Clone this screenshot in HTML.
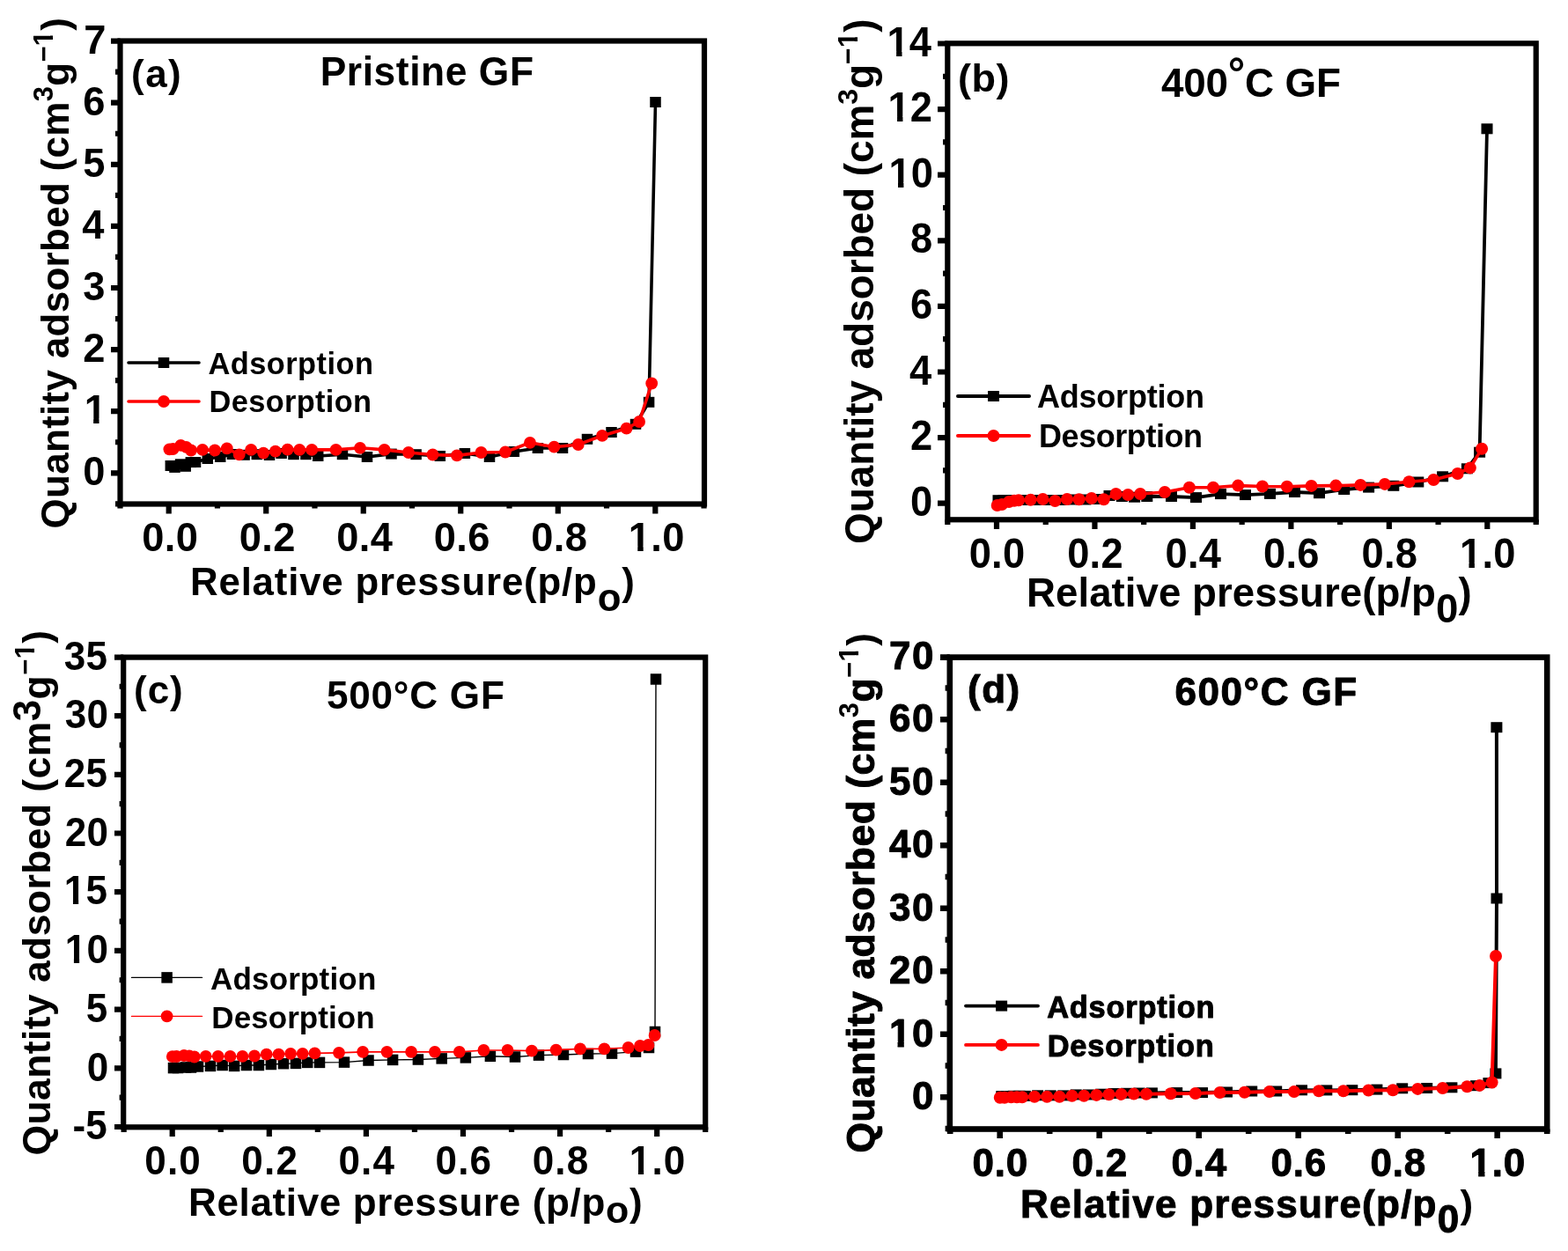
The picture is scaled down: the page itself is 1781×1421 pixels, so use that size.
<!DOCTYPE html>
<html lang="en">
<head>
<meta charset="utf-8">
<title>N2 adsorption-desorption isotherms of graphite felt</title>
<style>
html,body{margin:0;padding:0;background:#fff;}
body{width:1781px;height:1421px;overflow:hidden;}
svg{display:block;}
svg text{font-family:"Liberation Sans", sans-serif;font-weight:700;fill:#000;white-space:pre;}
</style>
</head>
<body>
<svg width="1781" height="1421" viewBox="0 0 1781 1421">
<rect width="1781" height="1421" fill="#fff"/>
<defs><clipPath id="c1"><path d="M-9 -91.6H999V45.8H25.46V-5.59H17.1V45.8H10.61V-5.59H-9Z"/></clipPath><clipPath id="c2"><path d="M-9 -91.6H999V45.8H25.1V-5.59H17.1V45.8H10.61V-5.59H-9Z"/></clipPath><clipPath id="c3"><path clip-rule="evenodd" d="M-99 -200H1500V200H-99ZM549.09 -22.03H555.29V-15H549.09ZM559.78 -22.03H565.52V-15H559.78Z"/></clipPath><clipPath id="c4"><path d="M-9 -96H999V48H26.56V-5.86H17.91V48H11.13V-5.86H-9Z"/></clipPath><clipPath id="c5"><path d="M-9 -96H999V48H26.3V-5.86H17.91V48H11.13V-5.86H-9Z"/></clipPath><clipPath id="c6"><path clip-rule="evenodd" d="M-99 -200H1500V200H-99ZM564.6 -22.16H571.01V-15H564.6ZM575.63 -22.16H581.56V-15H575.63Z"/></clipPath><clipPath id="c7"><path d="M-9 -91.2H999V45.6H26.22V-5.56H17.02V45.6H10.57V-5.56H-9Z"/></clipPath><clipPath id="c8"><path d="M-9 -91.2H999V45.6H25.29V-5.56H17.02V45.6H10.57V-5.56H-9Z"/></clipPath><clipPath id="c9"><path clip-rule="evenodd" d="M-99 -200H1500V200H-99ZM565.16 -22.03H571.37V-15H565.16ZM575.85 -22.03H581.59V-15H575.85Z"/></clipPath><clipPath id="c10"><path d="M-9 -88.8H999V44.4H25.18V-5.92H17.08V44.4H9.78V-5.92H-9Z"/></clipPath><clipPath id="c11"><path d="M-9 -87.8H999V43.9H25.66V-5.86H16.89V43.9H9.67V-5.86H-9Z"/></clipPath><clipPath id="c12"><path clip-rule="evenodd" d="M-99 -200H1500V200H-99ZM559.15 -22.03H565.35V-15H559.15ZM569.84 -22.03H575.58V-15H569.84Z"/></clipPath></defs>
<g class="panel" id="panel-a">
<polyline points="193.8,529 198.5,530.9 205,527.3 210.7,529.8 216.8,525.1 222,525 235.8,521 250.2,519 264,516 277.6,516.8 291.8,516.2 306,517 319.6,515 333.5,516.2 347.4,516.2 361.2,518 389,516.2 417,519 444.5,515.6 472.6,516.2 499.8,518 527.9,515 556,519 583.8,513 610.9,509 639,509 667,498.8 694.5,491 722,481.8 737.1,456.8 744.5,116" fill="none" stroke="#000" stroke-width="3.6" stroke-linejoin="round"/>
<g fill="#000"><rect x="187.55" y="523" width="12.5" height="12"/><rect x="192.25" y="524.9" width="12.5" height="12"/><rect x="198.75" y="521.3" width="12.5" height="12"/><rect x="204.45" y="523.8" width="12.5" height="12"/><rect x="210.55" y="519.1" width="12.5" height="12"/><rect x="215.75" y="519" width="12.5" height="12"/><rect x="229.55" y="515" width="12.5" height="12"/><rect x="243.95" y="513" width="12.5" height="12"/><rect x="257.75" y="510" width="12.5" height="12"/><rect x="271.35" y="510.8" width="12.5" height="12"/><rect x="285.55" y="510.2" width="12.5" height="12"/><rect x="299.75" y="511" width="12.5" height="12"/><rect x="313.35" y="509" width="12.5" height="12"/><rect x="327.25" y="510.2" width="12.5" height="12"/><rect x="341.15" y="510.2" width="12.5" height="12"/><rect x="354.95" y="512" width="12.5" height="12"/><rect x="382.75" y="510.2" width="12.5" height="12"/><rect x="410.75" y="513" width="12.5" height="12"/><rect x="438.25" y="509.6" width="12.5" height="12"/><rect x="466.35" y="510.2" width="12.5" height="12"/><rect x="493.55" y="512" width="12.5" height="12"/><rect x="521.65" y="509" width="12.5" height="12"/><rect x="549.75" y="513" width="12.5" height="12"/><rect x="577.55" y="507" width="12.5" height="12"/><rect x="604.65" y="503" width="12.5" height="12"/><rect x="632.75" y="503" width="12.5" height="12"/><rect x="660.75" y="492.8" width="12.5" height="12"/><rect x="688.25" y="485" width="12.5" height="12"/><rect x="715.75" y="475.8" width="12.5" height="12"/><rect x="730.85" y="450.8" width="12.5" height="12"/><rect x="738.25" y="110" width="12.5" height="12"/></g>
<polyline points="192.4,510.3 196.5,510 205.3,505.9 211.5,507.8 217,511.5 230,510.9 244,511.5 257.8,509.4 271.7,516.4 285.2,510.9 299.2,514.6 312.8,512.7 326.6,510.6 340.2,510.9 354.2,510.9 381.6,510.9 409,508.8 436.6,510.9 464,514 491.5,516.5 519,517.4 546.5,514 574,513.5 602,502.8 629.4,507.7 656.8,505 684,494.9 711.6,486.7 726.1,479 740.2,435.5" fill="none" stroke="#f00" stroke-width="3.6" stroke-linejoin="round"/>
<g fill="#f00"><circle cx="192.4" cy="510.3" r="6.9"/><circle cx="196.5" cy="510" r="6.9"/><circle cx="205.3" cy="505.9" r="6.9"/><circle cx="211.5" cy="507.8" r="6.9"/><circle cx="217" cy="511.5" r="6.9"/><circle cx="230" cy="510.9" r="6.9"/><circle cx="244" cy="511.5" r="6.9"/><circle cx="257.8" cy="509.4" r="6.9"/><circle cx="271.7" cy="516.4" r="6.9"/><circle cx="285.2" cy="510.9" r="6.9"/><circle cx="299.2" cy="514.6" r="6.9"/><circle cx="312.8" cy="512.7" r="6.9"/><circle cx="326.6" cy="510.6" r="6.9"/><circle cx="340.2" cy="510.9" r="6.9"/><circle cx="354.2" cy="510.9" r="6.9"/><circle cx="381.6" cy="510.9" r="6.9"/><circle cx="409" cy="508.8" r="6.9"/><circle cx="436.6" cy="510.9" r="6.9"/><circle cx="464" cy="514" r="6.9"/><circle cx="491.5" cy="516.5" r="6.9"/><circle cx="519" cy="517.4" r="6.9"/><circle cx="546.5" cy="514" r="6.9"/><circle cx="574" cy="513.5" r="6.9"/><circle cx="602" cy="502.8" r="6.9"/><circle cx="629.4" cy="507.7" r="6.9"/><circle cx="656.8" cy="505" r="6.9"/><circle cx="684" cy="494.9" r="6.9"/><circle cx="711.6" cy="486.7" r="6.9"/><circle cx="726.1" cy="479" r="6.9"/><circle cx="740.2" cy="435.5" r="6.9"/></g>
<rect x="136.5" y="46.5" width="663.5" height="526" fill="none" stroke="#000" stroke-width="6.2"/>
<path d="M191.7 572.5V583.6M302.22 572.5V583.6M412.74 572.5V583.6M523.26 572.5V583.6M633.78 572.5V583.6M744.3 572.5V583.6M136.5 572.5V577.6M246.96 572.5V577.6M357.48 572.5V577.6M468 572.5V577.6M578.52 572.5V577.6M689.04 572.5V577.6M799.56 572.5V577.6M136.5 537.3H126M136.5 467.2H126M136.5 397.1H126M136.5 327H126M136.5 256.9H126M136.5 186.8H126M136.5 116.7H126M136.5 46.6H126M136.5 572.35H131M136.5 502.25H131M136.5 432.15H131M136.5 362.05H131M136.5 291.95H131M136.5 221.85H131M136.5 151.75H131M136.5 81.65H131" fill="none" stroke="#000" stroke-width="6.2"/>
<text transform="translate(161.19 626) scale(0.988 1)" font-size="45.8" letter-spacing="0.36" >0.0</text>
<text transform="translate(271.71 626) scale(0.988 1)" font-size="45.8" letter-spacing="0.36" >0.2</text>
<text transform="translate(382.23 626) scale(0.988 1)" font-size="45.8" letter-spacing="0.36" >0.4</text>
<text transform="translate(492.75 626) scale(0.988 1)" font-size="45.8" letter-spacing="0.36" >0.6</text>
<text transform="translate(603.27 626) scale(0.988 1)" font-size="45.8" letter-spacing="0.36" >0.8</text>
<text transform="translate(713.79 626) scale(0.988 1)" font-size="45.8" letter-spacing="0.36"  clip-path="url(#c1)">1.0</text>
<text transform="translate(94.29 551.3) scale(0.988 1)" font-size="45.8" letter-spacing="0" >0</text>
<text transform="translate(95.65 481.2) scale(0.988 1)" font-size="45.8" letter-spacing="0"  clip-path="url(#c2)">1</text>
<text transform="translate(94.29 411.1) scale(0.988 1)" font-size="45.8" letter-spacing="0" >2</text>
<text transform="translate(94.29 341) scale(0.988 1)" font-size="45.8" letter-spacing="0" >3</text>
<text transform="translate(93.3 270.9) scale(0.988 1)" font-size="45.8" letter-spacing="0" >4</text>
<text transform="translate(94.29 200.8) scale(0.988 1)" font-size="45.8" letter-spacing="0" >5</text>
<text transform="translate(94.29 130.7) scale(0.988 1)" font-size="45.8" letter-spacing="0" >6</text>
<text transform="translate(95.28 60.6) scale(0.988 1)" font-size="45.8" letter-spacing="0" >7</text>
<text x="216" y="676" font-size="43.8" letter-spacing="0.82" >Relative pressure(p/p<tspan dy="17.5">o</tspan><tspan dy="-17.5">)</tspan></text>
<text transform="translate(78 600.4) rotate(-90)" font-size="44" letter-spacing="0.28"  clip-path="url(#c3)">Quantity adsorbed (cm<tspan dy="-18" font-size="31">3</tspan><tspan dy="18">g</tspan><tspan dy="-18" font-size="31">−1</tspan><tspan dy="18">)</tspan></text>
<text transform="translate(363.68 97) scale(0.975 1)" font-size="45.5" letter-spacing="0.59" >Pristine GF</text>
<text x="149" y="99" font-size="44" letter-spacing="1.5" >(a)</text>
<path d="M146 412H226" stroke="#000" stroke-width="3.6" stroke-linecap="round" fill="none"/>
<rect x="179.75" y="406" width="12.5" height="12" fill="#000"/>
<path d="M146 456H226" stroke="#f00" stroke-width="3.6" stroke-linecap="round" fill="none"/>
<circle cx="186" cy="456" r="6.9" fill="#f00"/>
<text x="236.4" y="425" font-size="34.4" letter-spacing="0.47" >Adsorption</text>
<text x="237.6" y="468.4" font-size="34.4" letter-spacing="0.33" >Desorption</text>
</g>
<g class="panel" id="panel-b">
<polyline points="1134,568.2 1140,568 1148,568 1154,568 1163,568 1177,568 1191,568 1205,568 1219,567.5 1233,567.5 1247,567 1260,563 1274.4,564 1288.6,564.7 1302.8,564 1330.5,564 1358.5,565.1 1386.5,561.1 1414.5,562.1 1442.5,560.9 1470.5,559 1498.5,560.2 1526.7,556 1554.6,553.6 1582.8,551.8 1610.8,547.5 1638.6,541.3 1666.4,532.3 1680.6,513.7 1689,146.3" fill="none" stroke="#000" stroke-width="3.8" stroke-linejoin="round"/>
<g fill="#000"><rect x="1127.5" y="562.2" width="13" height="12"/><rect x="1133.5" y="562" width="13" height="12"/><rect x="1141.5" y="562" width="13" height="12"/><rect x="1147.5" y="562" width="13" height="12"/><rect x="1156.5" y="562" width="13" height="12"/><rect x="1170.5" y="562" width="13" height="12"/><rect x="1184.5" y="562" width="13" height="12"/><rect x="1198.5" y="562" width="13" height="12"/><rect x="1212.5" y="561.5" width="13" height="12"/><rect x="1226.5" y="561.5" width="13" height="12"/><rect x="1240.5" y="561" width="13" height="12"/><rect x="1253.5" y="557" width="13" height="12"/><rect x="1267.9" y="558" width="13" height="12"/><rect x="1282.1" y="558.7" width="13" height="12"/><rect x="1296.3" y="558" width="13" height="12"/><rect x="1324" y="558" width="13" height="12"/><rect x="1352" y="559.1" width="13" height="12"/><rect x="1380" y="555.1" width="13" height="12"/><rect x="1408" y="556.1" width="13" height="12"/><rect x="1436" y="554.9" width="13" height="12"/><rect x="1464" y="553" width="13" height="12"/><rect x="1492" y="554.2" width="13" height="12"/><rect x="1520.2" y="550" width="13" height="12"/><rect x="1548.1" y="547.6" width="13" height="12"/><rect x="1576.3" y="545.8" width="13" height="12"/><rect x="1604.3" y="541.5" width="13" height="12"/><rect x="1632.1" y="535.3" width="13" height="12"/><rect x="1659.9" y="526.3" width="13" height="12"/><rect x="1674.1" y="507.7" width="13" height="12"/><rect x="1682.5" y="140.3" width="13" height="12"/></g>
<polyline points="1132.7,574 1138,573 1146,570 1152,568.8 1157,568.2 1170.6,567.8 1184.5,567 1198.4,569 1212,567 1225.6,567.2 1239.8,566 1253.7,567.3 1267.6,561 1281.2,562 1295.2,561 1323,559 1350.9,553.7 1378,553.7 1406.2,551.6 1433.9,552.5 1461.8,552.7 1489.5,551.9 1517.3,551.6 1545.3,550.9 1572.9,549.9 1600.5,547.2 1628.3,545 1655.6,538 1669.8,531.4 1683.1,509.8" fill="none" stroke="#f00" stroke-width="3.6" stroke-linejoin="round"/>
<g fill="#f00"><circle cx="1132.7" cy="574" r="7"/><circle cx="1138" cy="573" r="7"/><circle cx="1146" cy="570" r="7"/><circle cx="1152" cy="568.8" r="7"/><circle cx="1157" cy="568.2" r="7"/><circle cx="1170.6" cy="567.8" r="7"/><circle cx="1184.5" cy="567" r="7"/><circle cx="1198.4" cy="569" r="7"/><circle cx="1212" cy="567" r="7"/><circle cx="1225.6" cy="567.2" r="7"/><circle cx="1239.8" cy="566" r="7"/><circle cx="1253.7" cy="567.3" r="7"/><circle cx="1267.6" cy="561" r="7"/><circle cx="1281.2" cy="562" r="7"/><circle cx="1295.2" cy="561" r="7"/><circle cx="1323" cy="559" r="7"/><circle cx="1350.9" cy="553.7" r="7"/><circle cx="1378" cy="553.7" r="7"/><circle cx="1406.2" cy="551.6" r="7"/><circle cx="1433.9" cy="552.5" r="7"/><circle cx="1461.8" cy="552.7" r="7"/><circle cx="1489.5" cy="551.9" r="7"/><circle cx="1517.3" cy="551.6" r="7"/><circle cx="1545.3" cy="550.9" r="7"/><circle cx="1572.9" cy="549.9" r="7"/><circle cx="1600.5" cy="547.2" r="7"/><circle cx="1628.3" cy="545" r="7"/><circle cx="1655.6" cy="538" r="7"/><circle cx="1669.8" cy="531.4" r="7"/><circle cx="1683.1" cy="509.8" r="7"/></g>
<rect x="1076.3" y="49.3" width="668.4" height="541" fill="none" stroke="#000" stroke-width="6.2"/>
<path d="M1132 590.3V601M1243.46 590.3V601M1354.92 590.3V601M1466.38 590.3V601M1577.84 590.3V601M1689.3 590.3V601M1076.3 590.3V596M1187.73 590.3V596M1299.19 590.3V596M1410.65 590.3V596M1522.11 590.3V596M1633.57 590.3V596M1744.7 590.3V596M1076.3 571.7H1065M1076.3 497.1H1065M1076.3 422.5H1065M1076.3 347.9H1065M1076.3 273.3H1065M1076.3 198.7H1065M1076.3 124.1H1065M1076.3 49.5H1065M1076.3 534.4H1071M1076.3 459.8H1071M1076.3 385.2H1071M1076.3 310.6H1071M1076.3 236H1071M1076.3 161.4H1071M1076.3 86.8H1071" fill="none" stroke="#000" stroke-width="6.2"/>
<text transform="translate(1100.69 645) scale(0.943 1)" font-size="48" letter-spacing="0.26" >0.0</text>
<text transform="translate(1212.15 645) scale(0.943 1)" font-size="48" letter-spacing="0.26" >0.2</text>
<text transform="translate(1323.61 645) scale(0.943 1)" font-size="48" letter-spacing="0.26" >0.4</text>
<text transform="translate(1435.07 645) scale(0.943 1)" font-size="48" letter-spacing="0.26" >0.6</text>
<text transform="translate(1546.53 645) scale(0.943 1)" font-size="48" letter-spacing="0.26" >0.8</text>
<text transform="translate(1657.99 645) scale(0.943 1)" font-size="48" letter-spacing="0.26"  clip-path="url(#c4)">1.0</text>
<text transform="translate(1034.02 585.8) scale(0.943 1)" font-size="48" letter-spacing="0" >0</text>
<text transform="translate(1034.02 511.2) scale(0.943 1)" font-size="48" letter-spacing="0" >2</text>
<text transform="translate(1033.08 436.6) scale(0.943 1)" font-size="48" letter-spacing="0" >4</text>
<text transform="translate(1034.02 362) scale(0.943 1)" font-size="48" letter-spacing="0" >6</text>
<text transform="translate(1034.02 287.4) scale(0.943 1)" font-size="48" letter-spacing="0" >8</text>
<text transform="translate(1009.51 212.8) scale(0.943 1)" font-size="48" letter-spacing="0"  clip-path="url(#c5)">10</text>
<text transform="translate(1008.56 138.2) scale(0.943 1)" font-size="48" letter-spacing="0"  clip-path="url(#c5)">12</text>
<text transform="translate(1007.62 63.6) scale(0.943 1)" font-size="48" letter-spacing="0"  clip-path="url(#c5)">14</text>
<text x="1166" y="689" font-size="45.6" letter-spacing="0.06" >Relative pressure(p/p<tspan dy="18">0</tspan><tspan dy="-18">)</tspan></text>
<text transform="translate(992 618) rotate(-90)" font-size="46" letter-spacing="-0.08"  clip-path="url(#c6)">Quantity adsorbed (cm<tspan dy="-18" font-size="32">3</tspan><tspan dy="18">g</tspan><tspan dy="-18" font-size="32">−1</tspan><tspan dy="18">)</tspan></text>
<text transform="translate(1319.03 109.5) scale(0.975 1)" font-size="47" letter-spacing="-0.22" >400<tspan dy="-9.5" font-size="50">°</tspan><tspan dy="9.5">C</tspan> GF</text>
<text x="1088" y="103.6" font-size="45" letter-spacing="0.5" >(b)</text>
<path d="M1088 450H1169" stroke="#000" stroke-width="4" stroke-linecap="round" fill="none"/>
<rect x="1122" y="444" width="13" height="12" fill="#000"/>
<path d="M1088 495H1169" stroke="#f00" stroke-width="4" stroke-linecap="round" fill="none"/>
<circle cx="1128.5" cy="495" r="7" fill="#f00"/>
<text x="1178" y="463" font-size="36" letter-spacing="-0.22" >Adsorption</text>
<text x="1180" y="507.7" font-size="36" letter-spacing="-0.44" >Desorption</text>
</g>
<g class="panel" id="panel-c">
<polyline points="197,1213.1 202,1213 211,1212.5 217,1212.5 225,1211.5 239,1210.9 252.6,1210 266.1,1210.9 280,1210 293.9,1210 307.9,1209 322,1208.2 336,1207.9 349.2,1206.9 363,1206.9 391,1206.6 418.5,1204.5 446.1,1203.9 474.9,1203.5 501.7,1202.4 528.9,1201.4 556.9,1199.8 585,1200.5 612,1198.6 640,1198 668,1197 695,1196.6 722,1194.6 737,1190 744,1172 745,771.5" fill="none" stroke="#000" stroke-width="1.4" stroke-linejoin="round"/>
<g fill="#000"><rect x="190.75" y="1206.85" width="12.5" height="12.5"/><rect x="195.75" y="1206.75" width="12.5" height="12.5"/><rect x="204.75" y="1206.25" width="12.5" height="12.5"/><rect x="210.75" y="1206.25" width="12.5" height="12.5"/><rect x="218.75" y="1205.25" width="12.5" height="12.5"/><rect x="232.75" y="1204.65" width="12.5" height="12.5"/><rect x="246.35" y="1203.75" width="12.5" height="12.5"/><rect x="259.85" y="1204.65" width="12.5" height="12.5"/><rect x="273.75" y="1203.75" width="12.5" height="12.5"/><rect x="287.65" y="1203.75" width="12.5" height="12.5"/><rect x="301.65" y="1202.75" width="12.5" height="12.5"/><rect x="315.75" y="1201.95" width="12.5" height="12.5"/><rect x="329.75" y="1201.65" width="12.5" height="12.5"/><rect x="342.95" y="1200.65" width="12.5" height="12.5"/><rect x="356.75" y="1200.65" width="12.5" height="12.5"/><rect x="384.75" y="1200.35" width="12.5" height="12.5"/><rect x="412.25" y="1198.25" width="12.5" height="12.5"/><rect x="439.85" y="1197.65" width="12.5" height="12.5"/><rect x="468.65" y="1197.25" width="12.5" height="12.5"/><rect x="495.45" y="1196.15" width="12.5" height="12.5"/><rect x="522.65" y="1195.15" width="12.5" height="12.5"/><rect x="550.65" y="1193.55" width="12.5" height="12.5"/><rect x="578.75" y="1194.25" width="12.5" height="12.5"/><rect x="605.75" y="1192.35" width="12.5" height="12.5"/><rect x="633.75" y="1191.75" width="12.5" height="12.5"/><rect x="661.75" y="1190.75" width="12.5" height="12.5"/><rect x="688.75" y="1190.35" width="12.5" height="12.5"/><rect x="715.75" y="1188.35" width="12.5" height="12.5"/><rect x="730.75" y="1183.75" width="12.5" height="12.5"/><rect x="737.75" y="1165.75" width="12.5" height="12.5"/><rect x="738.75" y="765.25" width="12.5" height="12.5"/></g>
<polyline points="195.8,1200.1 200.5,1200 209,1199 215,1199.3 220.8,1200.5 233.7,1199.8 247.7,1199.8 261.5,1199.9 275.4,1199.9 289,1199.5 302.7,1197.7 316.5,1197.7 330.1,1196.8 343.7,1196.8 357.5,1196.4 385,1195.8 412.1,1194.8 439.5,1194.8 467.1,1194.8 493.9,1194.8 521.8,1194.8 549.4,1193 576.5,1193 604,1193.6 631.6,1192.6 659,1191.4 686.4,1191.4 713.6,1190 727,1188 736.4,1187 743.6,1176" fill="none" stroke="#f00" stroke-width="1.7" stroke-linejoin="round"/>
<g fill="#f00"><circle cx="195.8" cy="1200.1" r="6.9"/><circle cx="200.5" cy="1200" r="6.9"/><circle cx="209" cy="1199" r="6.9"/><circle cx="215" cy="1199.3" r="6.9"/><circle cx="220.8" cy="1200.5" r="6.9"/><circle cx="233.7" cy="1199.8" r="6.9"/><circle cx="247.7" cy="1199.8" r="6.9"/><circle cx="261.5" cy="1199.9" r="6.9"/><circle cx="275.4" cy="1199.9" r="6.9"/><circle cx="289" cy="1199.5" r="6.9"/><circle cx="302.7" cy="1197.7" r="6.9"/><circle cx="316.5" cy="1197.7" r="6.9"/><circle cx="330.1" cy="1196.8" r="6.9"/><circle cx="343.7" cy="1196.8" r="6.9"/><circle cx="357.5" cy="1196.4" r="6.9"/><circle cx="385" cy="1195.8" r="6.9"/><circle cx="412.1" cy="1194.8" r="6.9"/><circle cx="439.5" cy="1194.8" r="6.9"/><circle cx="467.1" cy="1194.8" r="6.9"/><circle cx="493.9" cy="1194.8" r="6.9"/><circle cx="521.8" cy="1194.8" r="6.9"/><circle cx="549.4" cy="1193" r="6.9"/><circle cx="576.5" cy="1193" r="6.9"/><circle cx="604" cy="1193.6" r="6.9"/><circle cx="631.6" cy="1192.6" r="6.9"/><circle cx="659" cy="1191.4" r="6.9"/><circle cx="686.4" cy="1191.4" r="6.9"/><circle cx="713.6" cy="1190" r="6.9"/><circle cx="727" cy="1188" r="6.9"/><circle cx="736.4" cy="1187" r="6.9"/><circle cx="743.6" cy="1176" r="6.9"/></g>
<rect x="140.2" y="746.6" width="661" height="533.7" fill="none" stroke="#000" stroke-width="6.2"/>
<path d="M195.7 1280.3V1291M305.8 1280.3V1291M415.9 1280.3V1291M526 1280.3V1291M636.1 1280.3V1291M746.2 1280.3V1291M140.65 1280.3V1286M250.75 1280.3V1286M360.85 1280.3V1286M470.95 1280.3V1286M581.05 1280.3V1286M691.15 1280.3V1286M801.2 1280.3V1286M140.2 1280H130M140.2 1213.3H130M140.2 1146.6H130M140.2 1079.9H130M140.2 1013.2H130M140.2 946.5H130M140.2 879.8H130M140.2 813.1H130M140.2 746.6H130M140.2 1246.65H135.6M140.2 1179.95H135.6M140.2 1113.25H135.6M140.2 1046.55H135.6M140.2 979.85H135.6M140.2 913.15H135.6M140.2 846.45H135.6M140.2 779.75H135.6" fill="none" stroke="#000" stroke-width="6.2"/>
<text transform="translate(164.23 1334) scale(0.965 1)" font-size="45.6" letter-spacing="1.23" >0.0</text>
<text transform="translate(274.33 1334) scale(0.965 1)" font-size="45.6" letter-spacing="1.23" >0.2</text>
<text transform="translate(384.43 1334) scale(0.965 1)" font-size="45.6" letter-spacing="1.23" >0.4</text>
<text transform="translate(494.53 1334) scale(0.965 1)" font-size="45.6" letter-spacing="1.23" >0.6</text>
<text transform="translate(604.63 1334) scale(0.965 1)" font-size="45.6" letter-spacing="1.23" >0.8</text>
<text transform="translate(714.73 1334) scale(0.965 1)" font-size="45.6" letter-spacing="1.23"  clip-path="url(#c7)">1.0</text>
<text transform="translate(82.4 1294.2) scale(0.965 1)" font-size="45.6" letter-spacing="0.3" >-5</text>
<text transform="translate(98.81 1227.5) scale(0.965 1)" font-size="45.6" letter-spacing="0.3" >0</text>
<text transform="translate(97.84 1160.8) scale(0.965 1)" font-size="45.6" letter-spacing="0.3" >5</text>
<text transform="translate(73.72 1094.1) scale(0.965 1)" font-size="45.6" letter-spacing="0.3"  clip-path="url(#c8)">10</text>
<text transform="translate(72.75 1027.4) scale(0.965 1)" font-size="45.6" letter-spacing="0.3"  clip-path="url(#c8)">15</text>
<text transform="translate(73.72 960.7) scale(0.965 1)" font-size="45.6" letter-spacing="0.3" >20</text>
<text transform="translate(72.75 894) scale(0.965 1)" font-size="45.6" letter-spacing="0.3" >25</text>
<text transform="translate(73.72 827.3) scale(0.965 1)" font-size="45.6" letter-spacing="0.3" >30</text>
<text transform="translate(72.75 760.6) scale(0.965 1)" font-size="45.6" letter-spacing="0.3" >35</text>
<text x="214" y="1381.4" font-size="44" letter-spacing="0.65" >Relative pressure (p/p<tspan dy="7.5" font-size="43">o</tspan><tspan dy="-7.5">)</tspan></text>
<text transform="translate(57 1312.6) rotate(-90)" font-size="44.5" letter-spacing="0.41"  clip-path="url(#c9)">Quantity adsorbed (cm<tspan dy="-11" font-size="44">3</tspan><tspan dy="11">g</tspan><tspan dy="-18" font-size="31">−1</tspan><tspan dy="18">)</tspan></text>
<text transform="translate(370.94 804.8) scale(0.98 1)" font-size="45" letter-spacing="0.78" >500°C GF</text>
<text x="152" y="799" font-size="44" letter-spacing="1" >(c)</text>
<path d="M149.5 1110.4H229.5" stroke="#000" stroke-width="1.4" stroke-linecap="round" fill="none"/>
<rect x="183.35" y="1104.15" width="12.5" height="12.5" fill="#000"/>
<path d="M149.5 1154.4H229.5" stroke="#f00" stroke-width="1.4" stroke-linecap="round" fill="none"/>
<circle cx="189.6" cy="1154.4" r="6.9" fill="#f00"/>
<text x="239" y="1124" font-size="35" letter-spacing="0.18" >Adsorption</text>
<text x="240.3" y="1168" font-size="35" letter-spacing="0.07" >Desorption</text>
</g>
<g class="panel" id="panel-d">
<polyline points="1137.8,1245.1 1143.33,1245.14 1151.16,1244.78 1157.99,1244.82 1164.32,1244.86 1178.65,1244.3 1193.18,1244.34 1207.71,1244.38 1222.24,1243.42 1236.17,1243.46 1250.7,1242.7 1265.23,1242.04 1279.46,1241.78 1294.09,1241.52 1308.4,1241.4 1336.7,1241.1 1365.5,1241.1 1393.5,1240.5 1421.7,1239.5 1449.7,1239.5 1478.5,1238.3 1506.8,1238.4 1535.8,1238.2 1563.9,1237.6 1592.7,1236.3 1620.7,1236 1648.9,1235.3 1676.6,1233.2 1690.9,1230.1 1698.9,1219.4 1700,1020.5 1699.9,826.2" fill="none" stroke="#000" stroke-width="4" stroke-linejoin="round"/>
<g fill="#000"><rect x="1131.3" y="1239.1" width="13" height="12"/><rect x="1136.83" y="1239.14" width="13" height="12"/><rect x="1144.66" y="1238.78" width="13" height="12"/><rect x="1151.49" y="1238.82" width="13" height="12"/><rect x="1157.82" y="1238.86" width="13" height="12"/><rect x="1172.15" y="1238.3" width="13" height="12"/><rect x="1186.68" y="1238.34" width="13" height="12"/><rect x="1201.21" y="1238.38" width="13" height="12"/><rect x="1215.74" y="1237.42" width="13" height="12"/><rect x="1229.67" y="1237.46" width="13" height="12"/><rect x="1244.2" y="1236.7" width="13" height="12"/><rect x="1258.73" y="1236.04" width="13" height="12"/><rect x="1272.96" y="1235.78" width="13" height="12"/><rect x="1287.59" y="1235.52" width="13" height="12"/><rect x="1301.9" y="1235.4" width="13" height="12"/><rect x="1330.2" y="1235.1" width="13" height="12"/><rect x="1359" y="1235.1" width="13" height="12"/><rect x="1387" y="1234.5" width="13" height="12"/><rect x="1415.2" y="1233.5" width="13" height="12"/><rect x="1443.2" y="1233.5" width="13" height="12"/><rect x="1472" y="1232.3" width="13" height="12"/><rect x="1500.3" y="1232.4" width="13" height="12"/><rect x="1529.3" y="1232.2" width="13" height="12"/><rect x="1557.4" y="1231.6" width="13" height="12"/><rect x="1586.2" y="1230.3" width="13" height="12"/><rect x="1614.2" y="1230" width="13" height="12"/><rect x="1642.4" y="1229.3" width="13" height="12"/><rect x="1670.1" y="1227.2" width="13" height="12"/><rect x="1684.4" y="1224.1" width="13" height="12"/><rect x="1692.4" y="1213.4" width="13" height="12"/><rect x="1693.5" y="1014.5" width="13" height="12"/><rect x="1693.4" y="820.2" width="13" height="12"/></g>
<polyline points="1135.8,1246.7 1141,1246.7 1148.5,1246.3 1155,1246.3 1161,1246.3 1175,1245.7 1189.2,1245.7 1203.4,1245.7 1217.6,1244.7 1231.2,1244.7 1245.4,1243.9 1259.6,1243.2 1273.5,1242.9 1287.8,1242.6 1302,1242.7 1329.7,1242.3 1357.8,1242 1385.6,1241 1413.6,1240.8 1441.8,1240.1 1469.9,1240.1 1498,1239.3 1525.9,1239.2 1554.4,1238.5 1582.1,1238.2 1610.3,1236.9 1638.6,1236 1666.4,1234.2 1680.6,1232.9 1694.6,1229.5 1699,1086" fill="none" stroke="#f00" stroke-width="4" stroke-linejoin="round"/>
<g fill="#f00"><circle cx="1135.8" cy="1246.7" r="7"/><circle cx="1141" cy="1246.7" r="7"/><circle cx="1148.5" cy="1246.3" r="7"/><circle cx="1155" cy="1246.3" r="7"/><circle cx="1161" cy="1246.3" r="7"/><circle cx="1175" cy="1245.7" r="7"/><circle cx="1189.2" cy="1245.7" r="7"/><circle cx="1203.4" cy="1245.7" r="7"/><circle cx="1217.6" cy="1244.7" r="7"/><circle cx="1231.2" cy="1244.7" r="7"/><circle cx="1245.4" cy="1243.9" r="7"/><circle cx="1259.6" cy="1243.2" r="7"/><circle cx="1273.5" cy="1242.9" r="7"/><circle cx="1287.8" cy="1242.6" r="7"/><circle cx="1302" cy="1242.7" r="7"/><circle cx="1329.7" cy="1242.3" r="7"/><circle cx="1357.8" cy="1242" r="7"/><circle cx="1385.6" cy="1241" r="7"/><circle cx="1413.6" cy="1240.8" r="7"/><circle cx="1441.8" cy="1240.1" r="7"/><circle cx="1469.9" cy="1240.1" r="7"/><circle cx="1498" cy="1239.3" r="7"/><circle cx="1525.9" cy="1239.2" r="7"/><circle cx="1554.4" cy="1238.5" r="7"/><circle cx="1582.1" cy="1238.2" r="7"/><circle cx="1610.3" cy="1236.9" r="7"/><circle cx="1638.6" cy="1236" r="7"/><circle cx="1666.4" cy="1234.2" r="7"/><circle cx="1680.6" cy="1232.9" r="7"/><circle cx="1694.6" cy="1229.5" r="7"/><circle cx="1699" cy="1086" r="7"/></g>
<rect x="1078.8" y="746.6" width="678.4" height="535.9" fill="none" stroke="#000" stroke-width="6.6"/>
<path d="M1135.7 1282.5V1293M1248.7 1282.5V1293M1361.7 1282.5V1293M1474.7 1282.5V1293M1587.7 1282.5V1293M1700.7 1282.5V1293M1079.2 1282.5V1288M1192.2 1282.5V1288M1305.2 1282.5V1288M1418.2 1282.5V1288M1531.2 1282.5V1288M1644.2 1282.5V1288M1757.2 1282.5V1288M1078.8 1246.2H1068M1078.8 1174.7H1068M1078.8 1103.2H1068M1078.8 1031.7H1068M1078.8 960.2H1068M1078.8 888.7H1068M1078.8 817.2H1068M1078.8 746.6H1068M1078.8 1281.95H1073.6M1078.8 1210.45H1073.6M1078.8 1138.95H1073.6M1078.8 1067.45H1073.6M1078.8 995.95H1073.6M1078.8 924.45H1073.6M1078.8 852.95H1073.6M1078.8 781.45H1073.6" fill="none" stroke="#000" stroke-width="6.6"/>
<text transform="translate(1104.51 1336) scale(0.99 1)" font-size="44.4" letter-spacing="0.85" stroke="#000" stroke-width="1" stroke-linejoin="round">0.0</text>
<text transform="translate(1217.51 1336) scale(0.99 1)" font-size="44.4" letter-spacing="0.85" stroke="#000" stroke-width="1" stroke-linejoin="round">0.2</text>
<text transform="translate(1330.51 1336) scale(0.99 1)" font-size="44.4" letter-spacing="0.85" stroke="#000" stroke-width="1" stroke-linejoin="round">0.4</text>
<text transform="translate(1443.51 1336) scale(0.99 1)" font-size="44.4" letter-spacing="0.85" stroke="#000" stroke-width="1" stroke-linejoin="round">0.6</text>
<text transform="translate(1556.51 1336) scale(0.99 1)" font-size="44.4" letter-spacing="0.85" stroke="#000" stroke-width="1" stroke-linejoin="round">0.8</text>
<text transform="translate(1669.51 1336) scale(0.99 1)" font-size="44.4" letter-spacing="0.85" stroke="#000" stroke-width="1" stroke-linejoin="round" clip-path="url(#c10)">1.0</text>
<text transform="translate(1035.9 1260.4) scale(1 1)" font-size="43.9" letter-spacing="1.6" stroke="#000" stroke-width="1" stroke-linejoin="round">0</text>
<text transform="translate(1009.9 1188.9) scale(1 1)" font-size="43.9" letter-spacing="1.6" stroke="#000" stroke-width="1" stroke-linejoin="round" clip-path="url(#c11)">10</text>
<text transform="translate(1009.9 1117.4) scale(1 1)" font-size="43.9" letter-spacing="1.6" stroke="#000" stroke-width="1" stroke-linejoin="round">20</text>
<text transform="translate(1009.9 1045.9) scale(1 1)" font-size="43.9" letter-spacing="1.6" stroke="#000" stroke-width="1" stroke-linejoin="round">30</text>
<text transform="translate(1009.9 974.4) scale(1 1)" font-size="43.9" letter-spacing="1.6" stroke="#000" stroke-width="1" stroke-linejoin="round">40</text>
<text transform="translate(1009.9 902.9) scale(1 1)" font-size="43.9" letter-spacing="1.6" stroke="#000" stroke-width="1" stroke-linejoin="round">50</text>
<text transform="translate(1009.9 831.4) scale(1 1)" font-size="43.9" letter-spacing="1.6" stroke="#000" stroke-width="1" stroke-linejoin="round">60</text>
<text transform="translate(1009.9 759.9) scale(1 1)" font-size="43.9" letter-spacing="1.6" stroke="#000" stroke-width="1" stroke-linejoin="round">70</text>
<text x="1159" y="1383" font-size="44" letter-spacing="1.25" stroke="#000" stroke-width="1" stroke-linejoin="round">Relative pressure(p/p<tspan dy="17">0</tspan><tspan dy="-17" stroke="none">)</tspan></text>
<text transform="translate(993 1309.6) rotate(-90)" font-size="44.5" letter-spacing="0.46" stroke="#000" stroke-width="1" stroke-linejoin="round" clip-path="url(#c12)">Quantity adsorbed (cm<tspan dy="-18" font-size="31" stroke="none">3</tspan><tspan dy="18">g</tspan><tspan dy="-18" font-size="31" stroke="none">−1</tspan><tspan dy="18" stroke="none">)</tspan></text>
<text transform="translate(1334.62 801.3) scale(0.98 1)" font-size="45" letter-spacing="1.48" stroke="#000" stroke-width="1" stroke-linejoin="round">600°C GF</text>
<text x="1099" y="798" font-size="44" letter-spacing="1.5" stroke="#000" stroke-width="1" stroke-linejoin="round">(d)</text>
<path d="M1097 1142.6H1179" stroke="#000" stroke-width="3.8" stroke-linecap="round" fill="none"/>
<rect x="1131.1" y="1136.6" width="13" height="12" fill="#000"/>
<path d="M1097 1186.9H1179" stroke="#f00" stroke-width="3.8" stroke-linecap="round" fill="none"/>
<circle cx="1137.6" cy="1186.9" r="7" fill="#f00"/>
<text x="1189.2" y="1156" font-size="34.4" letter-spacing="0.78" stroke="#000" stroke-width="1" stroke-linejoin="round">Adsorption</text>
<text x="1189.7" y="1199.7" font-size="34.4" letter-spacing="0.84" stroke="#000" stroke-width="1" stroke-linejoin="round">Desorption</text>
</g>
</svg>
</body>
</html>
